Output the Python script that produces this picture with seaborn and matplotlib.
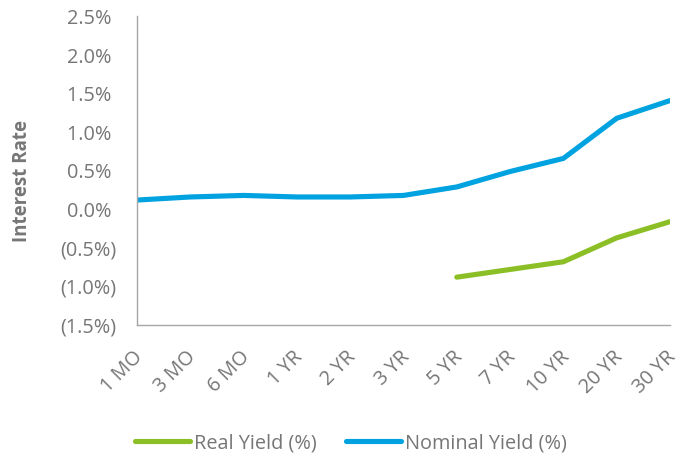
import matplotlib
matplotlib.use("Agg")
import matplotlib.pyplot as plt
from matplotlib.ticker import FuncFormatter, MultipleLocator
from matplotlib.lines import Line2D
from matplotlib.transforms import ScaledTranslation
import seaborn as sns
import pandas as pd

maturities = ["1 MO", "3 MO", "6 MO", "1 YR", "2 YR", "3 YR", "5 YR", "7 YR", "10 YR", "20 YR", "30 YR"]
nominal_yield = [0.12, 0.16, 0.18, 0.16, 0.16, 0.18, 0.29, 0.49, 0.66, 1.18, 1.41]
real_maturities = ["5 YR", "7 YR", "10 YR", "20 YR", "30 YR"]
real_yield = [-0.88, -0.78, -0.68, -0.37, -0.16]
series_names = ["Real Yield (%)", "Nominal Yield (%)"]
colors = {"Real Yield (%)": "#8CBF26", "Nominal Yield (%)": "#00A3E0"}

df = pd.concat([
    pd.DataFrame({"Maturity": maturities, "Yield": nominal_yield, "Series": "Nominal Yield (%)"}),
    pd.DataFrame({"Maturity": real_maturities, "Yield": real_yield, "Series": "Real Yield (%)"}),
], ignore_index=True)

sns.set_theme(style="white")
plt.rcParams["font.family"] = ["Open Sans", "DejaVu Sans"]
text_gray = "#767676"
fs = 14.3

fig = plt.figure(figsize=(6.88, 4.59), dpi=100)
ax = fig.add_axes([137/688, 1-325/459, (670-137)/688, (325-16.5)/459])

sns.lineplot(data=df, x="Maturity", y="Yield", hue="Series", hue_order=series_names,
             palette=colors, linewidth=3.7, sort=False, legend=False, ax=ax,
             solid_capstyle="round")

ax.set_xlim(0, len(maturities) - 1)
ax.set_ylim(-1.5, 2.5)
ax.yaxis.set_major_locator(MultipleLocator(0.5))

def fmt(v, pos):
    if v < -1e-9:
        return f"({abs(v):.1f}%)"
    return f"{abs(v):.1f}% "
ax.yaxis.set_major_formatter(FuncFormatter(fmt))

ax.tick_params(axis="y", length=0, pad=15, labelsize=fs, labelcolor=text_gray)
ax.tick_params(axis="x", length=0, pad=21, labelsize=fs, labelcolor=text_gray)
shift = ScaledTranslation(3/100, 0, fig.dpi_scale_trans)
for lbl in ax.get_xticklabels():
    lbl.set_rotation(45)
    lbl.set_ha("right")
    lbl.set_va("center")
    lbl.set_rotation_mode("anchor")
    lbl.set_transform(lbl.get_transform() + shift)

for s in ["top", "right"]:
    ax.spines[s].set_visible(False)
for s in ["left", "bottom"]:
    ax.spines[s].set_color("#A6A6A6")
    ax.spines[s].set_linewidth(1.0)

ax.set_xlabel("")
ax.set_ylabel("Interest Rate", fontsize=13.5, fontweight="bold", color=text_gray)
ax.yaxis.label.set_va("center")
ax.yaxis.set_label_coords((22-137)/533, (325-181)/308.5)

handles = [Line2D([0], [0], color=colors[n], linewidth=3.7, solid_capstyle="round") for n in series_names]
fig.legend(handles, series_names, loc="center left", bbox_to_anchor=(135/688, 1-443/459),
           ncol=2, frameon=False, fontsize=fs, labelcolor=text_gray,
           handlelength=2.75, handletextpad=0.2, columnspacing=1.5,
           borderpad=0, borderaxespad=0)

fig.savefig("out.png", dpi=100)
